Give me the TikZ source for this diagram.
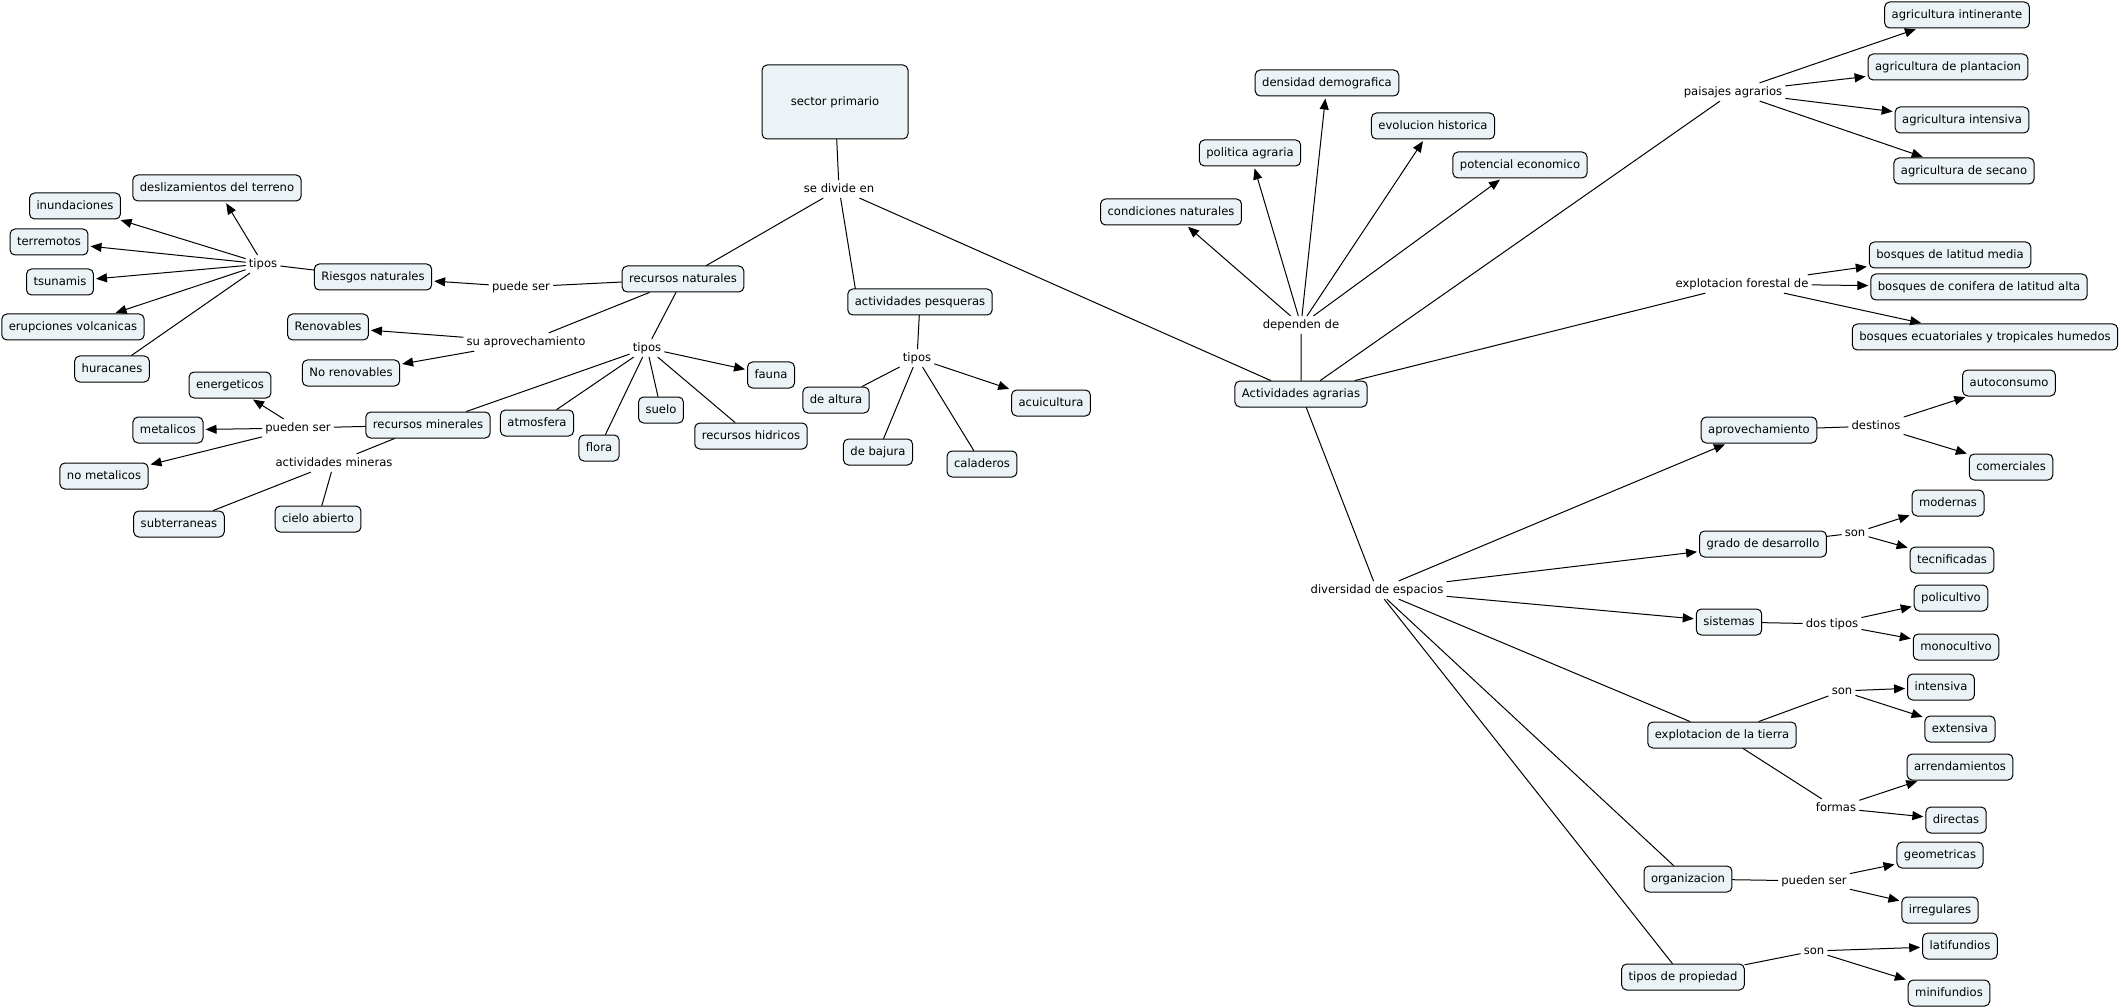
\documentclass[tikz,border=0pt]{standalone}
\usepackage{fontspec}
\setmainfont{DejaVu Sans}
\usetikzlibrary{arrows.meta}
\definecolor{cmfill}{RGB}{236,243,246}
\begin{document}
\begin{tikzpicture}[x=1pt,y=-1pt,line join=round,line cap=round,line width=1pt,
	font=\fontsize{11.6}{13}\selectfont,
	concept/.style={draw,fill=cmfill,rounded corners=5pt,inner xsep=7pt,minimum height=26pt,text height=8.8pt,text depth=2.6pt},
	link/.style={inner sep=3pt,text height=8.8pt,text depth=2.6pt},
	arr/.style={-{Triangle[length=11pt,width=9pt]},shorten >=2pt}]
	\useasboundingbox (0,0) rectangle (2121,1008);
	\node[concept,minimum width=146pt,minimum height=74pt] (SP) at (835,102) {sector primario};
	\node[link] (sde) at (839,189) {se divide en};
	\node[concept] (RN) at (683,279) {recursos naturales};
	\node[concept] (AP) at (920,302) {actividades pesqueras};
	\node[concept] (AA) at (1301,394) {Actividades agrarias};
	\node[link] (ps1) at (521,287) {puede ser};
	\node[concept] (RiN) at (373,277) {Riesgos naturales};
	\node[link] (tp1) at (263,264) {tipos};
	\node[concept] (Des) at (217,188) {deslizamientos del terreno};
	\node[concept] (Inu) at (75,206) {inundaciones};
	\node[concept] (Ter) at (49,242) {terremotos};
	\node[concept] (Tsu) at (60,282) {tsunamis};
	\node[concept] (Eru) at (73,327) {erupciones volcanicas};
	\node[concept] (Hur) at (112,369) {huracanes};
	\node[link] (sa) at (526,342) {su aprovechamiento};
	\node[concept] (Ren) at (328,327) {Renovables};
	\node[concept] (NoR) at (351,373) {No renovables};
	\node[link] (tp2) at (647,348) {tipos};
	\node[concept] (Fau) at (771,375) {fauna};
	\node[concept] (RM) at (428,425) {recursos minerales};
	\node[concept] (Atm) at (537,423) {atmosfera};
	\node[concept] (Flo) at (599,448) {flora};
	\node[concept] (Sue) at (661,410) {suelo};
	\node[concept] (RH) at (751,436) {recursos hidricos};
	\node[link] (ps2) at (298,428) {pueden ser};
	\node[concept] (Ene) at (230,385) {energeticos};
	\node[concept] (Met) at (168,430) {metalicos};
	\node[concept] (NoM) at (104,476) {no metalicos};
	\node[link] (am) at (334,463) {actividades mineras};
	\node[concept] (Sub) at (179,524) {subterraneas};
	\node[concept] (Cie) at (318,519) {cielo abierto};
	\node[link] (tp3) at (917,358) {tipos};
	\node[concept] (DAl) at (836,400) {de altura};
	\node[concept] (DBa) at (878,452) {de bajura};
	\node[concept] (Cal) at (982,464) {caladeros};
	\node[concept] (Acu) at (1051,403) {acuicultura};
	\node[link] (dd) at (1301,325) {dependen de};
	\node[concept] (CN) at (1171,212) {condiciones naturales};
	\node[concept] (PA) at (1250,153) {politica agraria};
	\node[concept] (DD) at (1327,83) {densidad demografica};
	\node[concept] (EH) at (1433,126) {evolucion historica};
	\node[concept] (PE) at (1520,165) {potencial economico};
	\node[link] (pa) at (1733,92) {paisajes agrarios};
	\node[concept] (AI) at (1957,15) {agricultura intinerante};
	\node[concept] (APl) at (1948,67) {agricultura de plantacion};
	\node[concept] (AIn) at (1962,120) {agricultura intensiva};
	\node[concept] (AS) at (1964,171) {agricultura de secano};
	\node[link] (ef) at (1742,284) {explotacion forestal de};
	\node[concept] (BM) at (1950,255) {bosques de latitud media};
	\node[concept] (BC) at (1979,287) {bosques de conifera de latitud alta};
	\node[concept] (BE) at (1985,337) {bosques ecuatoriales y tropicales humedos};
	\node[link] (de) at (1377,590) {diversidad de espacios};
	\node[concept] (Apr) at (1759,430) {aprovechamiento};
	\node[concept] (GD) at (1763,544) {grado de desarrollo};
	\node[concept] (Sis) at (1729,622) {sistemas};
	\node[concept] (ET) at (1722,735) {explotacion de la tierra};
	\node[concept] (Org) at (1688,879) {organizacion};
	\node[concept] (TP) at (1683,977) {tipos de propiedad};
	\node[link] (dst) at (1876,426) {destinos};
	\node[concept] (Aut) at (2009,383) {autoconsumo};
	\node[concept] (Com) at (2011,467) {comerciales};
	\node[link] (son1) at (1855,533) {son};
	\node[concept] (Mod) at (1948,503) {modernas};
	\node[concept] (Tec) at (1952,560) {tecnificadas};
	\node[link] (dt) at (1832,624) {dos tipos};
	\node[concept] (Pol) at (1951,598) {policultivo};
	\node[concept] (Mon) at (1956,647) {monocultivo};
	\node[link] (son2) at (1842,691) {son};
	\node[concept] (Int) at (1941,687) {intensiva};
	\node[concept] (Ext) at (1960,729) {extensiva};
	\node[link] (fm) at (1836,808) {formas};
	\node[concept] (Arr) at (1960,767) {arrendamientos};
	\node[concept] (Dir) at (1956,820) {directas};
	\node[link] (ps3) at (1814,881) {pueden ser};
	\node[concept] (Geo) at (1940,855) {geometricas};
	\node[concept] (Irr) at (1940,910) {irregulares};
	\node[link] (son3) at (1814,951) {son};
	\node[concept] (Lat) at (1960,946) {latifundios};
	\node[concept] (Min) at (1949,993) {minifundios};
	\draw (SP)--(sde) (sde)--(RN) (sde.-80)--([xshift=8pt]AP.north west) (sde)--(AA);
	\draw (RN)--(ps1) (RiN)--(tp1) (tp1)--(Hur) (RN)--(sa) (RN)--(tp2);
	\draw (tp2)--(RM) (tp2)--(Atm) (tp2)--(Flo) (tp2)--(Sue) (tp2)--(RH);
	\draw (RM)--(ps2) (RM)--(am) (am)--(Sub) (am)--(Cie);
	\draw (AP)--(tp3) (tp3)--(DAl) (tp3)--(DBa) (tp3)--(Cal);
	\draw (AA)--(dd) (AA)--(pa) (AA)--(ef) (AA)--(de);
	\draw (de)--(ET) (de)--(Org) (de)--(TP);
	\draw (Apr)--(dst) (GD)--(son1) (Sis)--(dt) (ET)--(son2) (ET)--(fm) (Org)--(ps3) (TP)--(son3);
	\draw[arr] (ps1)--(RiN);
	\foreach \t in {Des,Inu,Ter,Tsu,Eru} \draw[arr] (tp1)--(\t);
	\foreach \t in {Ren,NoR} \draw[arr] (sa)--(\t);
	\draw[arr] (tp2)--(Fau);
	\foreach \t in {Ene,Met,NoM} \draw[arr] (ps2)--(\t);
	\draw[arr] (tp3)--(Acu);
	\foreach \t in {CN,PA,DD,EH,PE} \draw[arr] (dd)--(\t);
	\foreach \t in {AI,APl,AIn,AS} \draw[arr] (pa)--(\t);
	\foreach \t in {BM,BC,BE} \draw[arr] (ef)--(\t);
	\foreach \t in {Apr,GD,Sis} \draw[arr] (de)--(\t);
	\foreach \t in {Aut,Com} \draw[arr] (dst)--(\t);
	\foreach \t in {Mod,Tec} \draw[arr] (son1)--(\t);
	\foreach \t in {Pol,Mon} \draw[arr] (dt)--(\t);
	\foreach \t in {Int,Ext} \draw[arr] (son2)--(\t);
	\foreach \t in {Arr,Dir} \draw[arr] (fm)--(\t);
	\foreach \t in {Geo,Irr} \draw[arr] (ps3)--(\t);
	\foreach \t in {Lat,Min} \draw[arr] (son3)--(\t);
\end{tikzpicture}
\end{document}
